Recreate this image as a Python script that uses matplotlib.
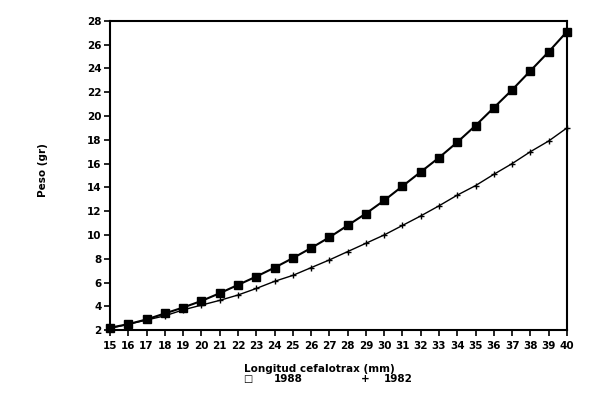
import matplotlib
matplotlib.use("Agg")
import matplotlib.pyplot as plt

longitud = list(range(15, 41))
peso_1988 = [2.2, 2.5, 2.9, 3.4, 3.9, 4.45, 5.1, 5.8, 6.5, 7.25, 8.05, 8.9, 9.8,
             10.8, 11.8, 12.9, 14.1, 15.3, 16.5, 17.8, 19.2, 20.7, 22.2, 23.8, 25.4, 27.1]
peso_1982 = [2.15, 2.5, 2.85, 3.2, 3.7, 4.1, 4.5, 4.95, 5.5, 6.1, 6.6, 7.25, 7.9,
             8.6, 9.3, 10.0, 10.8, 11.6, 12.45, 13.35, 14.15, 15.1, 16.0, 17.0, 17.9, 19.0]
yticks = list(range(2, 29, 2))
xlabel = "Longitud cefalotrax (mm)"
ylabel = "Peso (gr)"
legend_labels = ["1988", "1982"]

plt.rcParams['font.family'] = ['DejaVu Sans']
fig = plt.figure(figsize=(6.0, 3.93), dpi=100)
ax = fig.add_axes([0.1833, 0.160, 0.7617, 0.787])

ax.plot(longitud, peso_1988, color='black', lw=1.5, marker='s', ms=5.2,
        mfc='black', mec='black', clip_on=False, zorder=3)
ax.plot(longitud, peso_1982, color='black', lw=1.0, marker='+', ms=4.5,
        mew=1.0, clip_on=False, zorder=3)

ax.set_xlim(15, 40)
ax.set_ylim(2, 28)
ax.set_xticks(longitud)
ax.set_yticks(yticks)
ax.tick_params(axis='both', direction='out', length=4, width=1.2, pad=2,
               labelsize=7.5)
ax.tick_params(axis='x', pad=4)
for lbl in ax.get_xticklabels() + ax.get_yticklabels():
    lbl.set_fontweight('bold')
for s in ax.spines.values():
    s.set_linewidth(1.5)

fig.text(0.072, 0.567, ylabel, rotation=90, ha='center', va='center',
         fontsize=7.5, fontweight='bold')
fig.text(0.533, 0.061, xlabel, ha='center', va='center', fontsize=7.5,
         fontweight='bold')
fig.text(0.413, 0.036, "\u25a1", ha='center', va='center', fontsize=7,
         fontweight='bold')
fig.text(0.480, 0.036, legend_labels[0], ha='center', va='center', fontsize=7.5,
         fontweight='bold')
fig.text(0.608, 0.036, "+", ha='center', va='center', fontsize=7.5,
         fontweight='bold')
fig.text(0.663, 0.036, legend_labels[1], ha='center', va='center', fontsize=7.5,
         fontweight='bold')

fig.savefig("out.png", dpi=100)
